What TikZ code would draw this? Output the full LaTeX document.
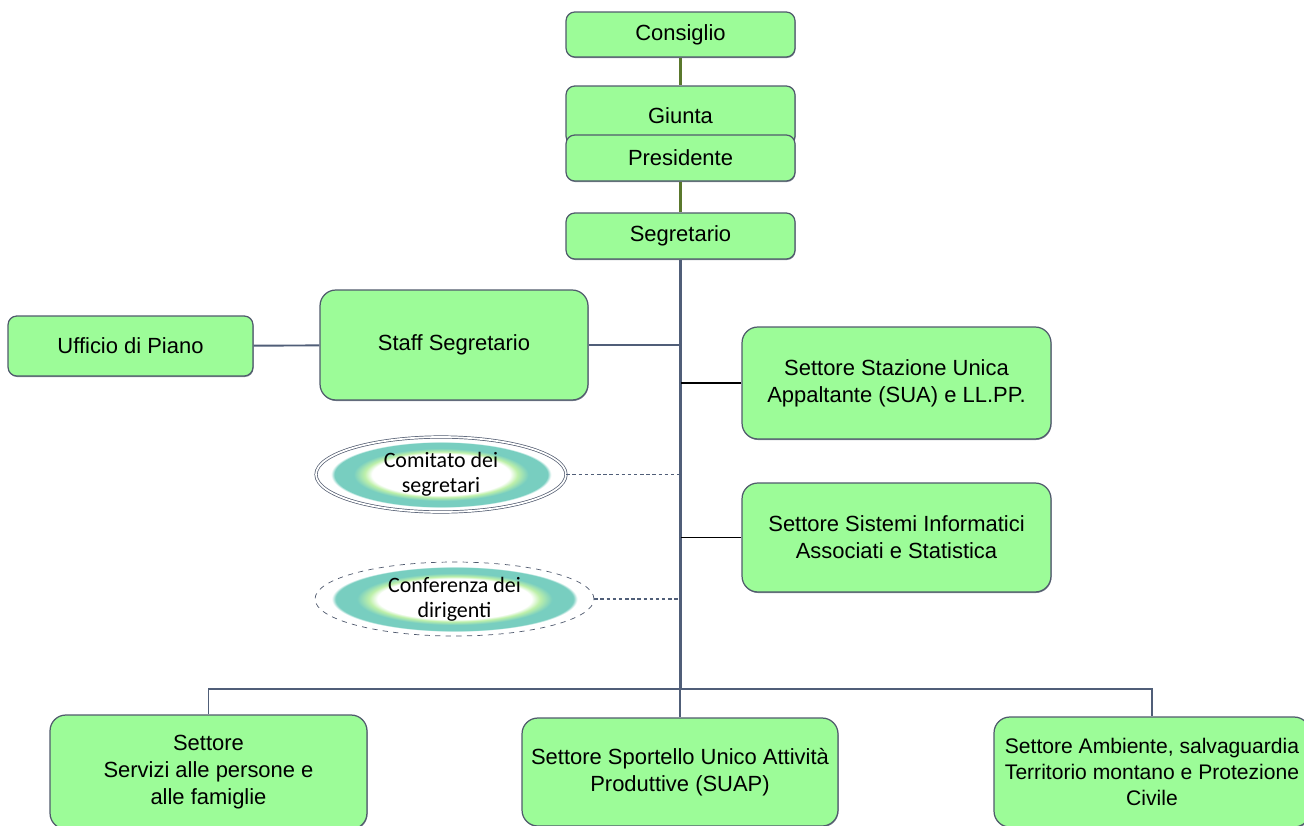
\documentclass[tikz,border=0pt]{standalone}
\usepackage{fontspec}
\setmainfont{Liberation Sans}
\newfontfamily\ovalfont{Carlito}
\usetikzlibrary{shapes.geometric,shadows}
\definecolor{boxgreen}{RGB}{156,252,152}
\definecolor{boxline}{RGB}{80,90,108}
\definecolor{trunkline}{RGB}{80,94,120}
\definecolor{olivelink}{RGB}{90,120,45}
\definecolor{ringteal}{RGB}{120,206,192}
\definecolor{ringgreen}{RGB}{190,240,170}
\definecolor{ovalline}{RGB}{80,90,110}
\pgfdeclareradialshading{ovalring}{\pgfpoint{0bp}{0bp}}{color(0bp)=(white); color(13.8bp)=(white); color(15.3bp)=(ringgreen); color(17.5bp)=(ringteal); color(21.3bp)=(ringteal); color(22bp)=(white); color(50bp)=(white)}
\tikzset{
  box/.style={draw=boxline, line width=0.7pt, fill=boxgreen, rounded corners=5pt, align=center, inner sep=0pt,
    drop shadow={shadow xshift=0.3pt, shadow yshift=-0.6pt, fill=boxline, opacity=0.7},
    font=\fontsize{12.5}{15.4}\selectfont},
  bigbox/.style={box, rounded corners=9pt},
  oval/.style={ellipse, draw=ovalline, shade, shading=ovalring, align=center, inner sep=0pt, font=\ovalfont\fontsize{12.5}{14.2}\selectfont},
  trunk/.style={draw=trunkline, line width=1.1pt},
  olive/.style={draw=olivelink, line width=1.4pt},
  dotlink/.style={draw=trunkline, line width=0.7pt, dash pattern=on 2pt off 1.5pt},
}

\begin{document}
\begin{tikzpicture}[x=0.02cm, y=-0.02cm]
\useasboundingbox (0,0) rectangle (1304,825);

% vertice
\node[box, minimum width=4.58cm, minimum height=0.9cm] (consiglio) at (680.5,34.5) {Consiglio};
\node[box, minimum width=4.58cm, minimum height=1.18cm] (giunta) at (680.5,115.5) {Giunta};
\node[box, minimum width=4.58cm, minimum height=0.92cm] (presidente) at (680.5,158) {Presidente};
\node[box, minimum width=4.58cm, minimum height=0.92cm] (segretario) at (680.5,236) {Segretario};
\coordinate (hub) at (681,689);

% staff
\node[box, minimum width=4.9cm, minimum height=1.2cm] (ufficio) at (130.5,346) {Ufficio di Piano};
\node[bigbox, minimum width=5.36cm, minimum height=2.2cm] (staff) at (454,345) {Staff Segretario};

% settori laterali
\node[bigbox, minimum width=6.18cm, minimum height=2.24cm] (stazione) at (896.5,383) {Settore Stazione Unica\\Appaltante (SUA) e LL.PP.};
\node[bigbox, minimum width=6.18cm, minimum height=2.18cm] (sistemi) at (896.5,537.5) {Settore Sistemi Informatici\\Associati e Statistica};

% organi collegiali
\node[oval, double=white, double distance=1pt, minimum width=5cm, minimum height=1.5cm] (comitato) at (441,474.5) {Comitato dei\\segretari};
\node[oval, dashed, minimum width=5.58cm, minimum height=1.48cm] (conferenza) at (454.5,599) {Conferenza dei\\dirigenti};

% settori in basso
\node[bigbox, minimum width=6.34cm, minimum height=2.28cm] (servizi) at (208.5,772) {Settore\\Servizi alle persone e\\alle famiglie};
\node[bigbox, minimum width=6.32cm, minimum height=2.16cm] (suap) at (680,772) {Settore Sportello Unico Attivit\`a\\Produttive (SUAP)};
\node[bigbox, minimum width=6.32cm, minimum height=2.2cm, font=\fontsize{12}{15}\selectfont] (ambiente) at (1152,772) {Settore Ambiente, salvaguardia\\Territorio montano e Protezione\\Civile};

% collegamenti
\draw[olive] (consiglio) -- (giunta);
\draw[olive] (presidente) -- (segretario);
\draw[trunk, line width=2.2pt] (segretario.south) -- (segretario.south |- hub);
\draw[trunk] (ufficio) -- (staff);
\draw[trunk] (staff.east) -- (staff.east -| hub);
\draw[black, line width=1.1pt] (stazione.west) -- (stazione.west -| hub);
\draw[black, line width=1.1pt] (sistemi.west) -- (sistemi.west -| hub);
\draw[dotlink] (comitato.east) -- (comitato.east -| hub);
\draw[dotlink] (conferenza.east) -- (conferenza.east -| hub);
\draw[trunk] (servizi.north) -- (servizi.north |- hub) -- (ambiente.north |- hub) -- (ambiente.north);
\draw[trunk] (suap.north) -- (suap.north |- hub);
\end{tikzpicture}
\end{document}
